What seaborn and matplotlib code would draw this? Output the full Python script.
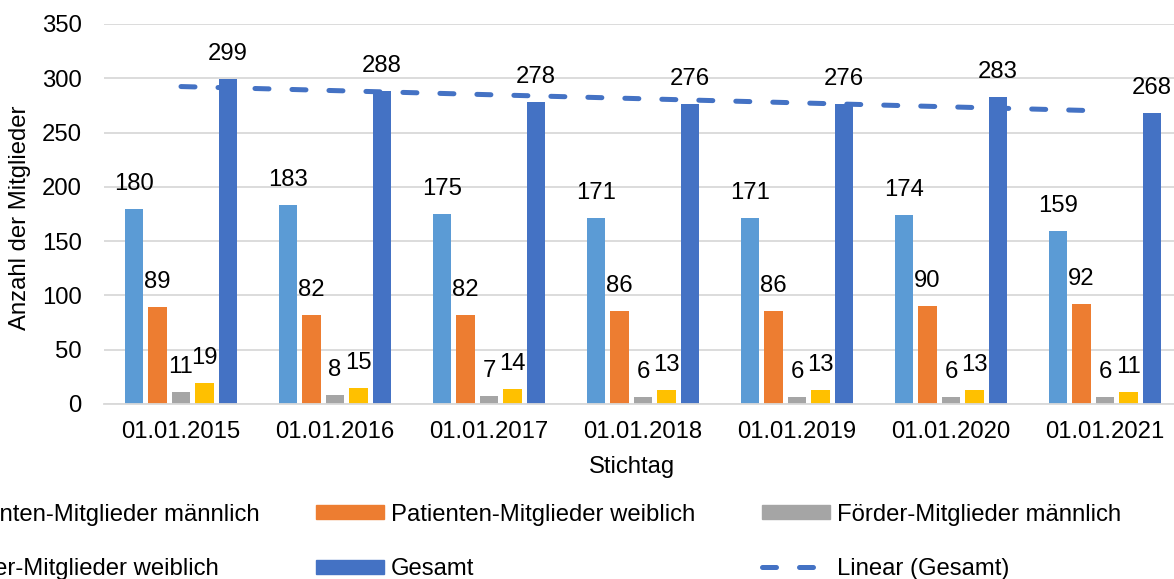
import numpy as np
import pandas as pd
import matplotlib
matplotlib.use('Agg')
import matplotlib.pyplot as plt
import seaborn as sns
from matplotlib.patches import Patch
from matplotlib.lines import Line2D

# Daten
stichtage = ['01.01.2015', '01.01.2016', '01.01.2017', '01.01.2018',
             '01.01.2019', '01.01.2020', '01.01.2021']
patienten_m = [180, 183, 175, 171, 171, 174, 159]
patienten_w = [89, 82, 82, 86, 86, 90, 92]
foerder_m = [11, 8, 7, 6, 6, 6, 6]
foerder_w = [19, 15, 14, 13, 13, 13, 11]
gesamt = [299, 288, 278, 276, 276, 283, 268]

serien = ['Patienten-Mitglieder männlich', 'Patienten-Mitglieder weiblich',
          'Förder-Mitglieder männlich', 'Förder-Mitglieder weiblich', 'Gesamt']
farben = ['#5B9BD5', '#ED7D31', '#A5A5A5', '#FFC000', '#4472C4']

df = pd.DataFrame({
    'Stichtag': stichtage * 5,
    'Serie': np.repeat(serien, len(stichtage)),
    'Wert': patienten_m + patienten_w + foerder_m + foerder_w + gesamt,
})

sns.set_style('white')
plt.rcParams['font.family'] = ['Liberation Sans', 'DejaVu Sans']
plt.rcParams['text.color'] = 'black'
plt.rcParams['xtick.color'] = 'black'
plt.rcParams['ytick.color'] = 'black'
FS = 17.2
W, H = 1174, 579
GRID = '#D9D9D9'

fig = plt.figure(figsize=(W / 100, H / 100), dpi=100)
ax = fig.add_axes([104 / W, 1 - 404 / H, 1078 / W, 380 / H])

sns.barplot(data=df, x='Stichtag', y='Wert', hue='Serie', hue_order=serien,
            palette=farben, saturation=1, width=0.763, gap=0.21, linewidth=0,
            errorbar=None, legend=False, ax=ax)

# lineare Trendlinie (Gesamt)
x = np.arange(len(gesamt))
m, b = np.polyfit(x, gesamt, 1)
trend_ls = (0, (2.8, 4.6))
ax.plot(x, m * x + b, color='#4472C4', lw=3.6, ls=trend_ls,
        dash_capstyle='round', zorder=5)

# Datenbeschriftungen
for cont in ax.containers:
    for t in ax.bar_label(cont, padding=18, fontsize=FS):
        t.set_va('center')

ax.set_xlim(-0.5, 6.5)
ax.set_ylim(0, 350)
ax.set_yticks(range(0, 351, 50))
ax.grid(axis='y', color=GRID, lw=1.3)
ax.set_axisbelow(True)
sns.despine(ax=ax, left=True)
ax.spines['bottom'].set_color(GRID)
ax.spines['bottom'].set_linewidth(1.3)
ax.tick_params(axis='y', length=0, pad=16, labelsize=FS)
ax.tick_params(axis='x', which='major', length=0, pad=12, labelsize=FS)
ax.set_xticks(np.arange(-0.5, 7, 1), minor=True)
ax.tick_params(axis='x', which='minor', length=7, color=GRID, width=1.3)
ax.set_xlabel('')
ax.set_ylabel('')

fig.text(632 / W, 1 - 467 / H, 'Stichtag', fontsize=FS, ha='center', va='center')
fig.text(20 / W, 1 - 218 / H, 'Anzahl der Mitglieder', fontsize=FS,
         rotation=90, ha='center', va='center')

# Legende (3 Spalten, linke Spalte teilweise abgeschnitten)
handles = [Patch(color=c) for c in farben] + [
    Line2D([], [], color='#4472C4', lw=3.6, ls=trend_ls, dash_capstyle='round')]
labels = serien + ['Linear (Gesamt)']
for (i, j), xpix in zip([(0, 3), (1, 4), (2, 5)], [-130, 316, 762]):
    fig.legend([handles[i], handles[j]], [labels[i], labels[j]],
               loc='center left', bbox_to_anchor=(xpix / W, 1 - 542 / H),
               frameon=False, fontsize=FS, borderpad=0, borderaxespad=0,
               handlelength=2.97 * 16.5 / FS, handleheight=0.57 * 16.5 / FS,
               handletextpad=0.3, labelspacing=1.36)

fig.savefig('out.png', dpi=100)
